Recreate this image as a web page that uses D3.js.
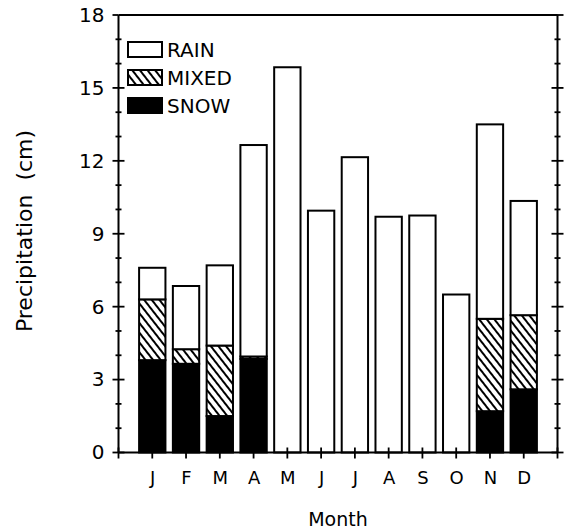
<!DOCTYPE html>
<html>
<head>
<meta charset="utf-8">
<script src="https://cdn.jsdelivr.net/npm/d3@7"></script>
<style>
  html, body { margin: 0; padding: 0; background: #fff; }
  svg { display: block; }
  text { font-family: "DejaVu Sans", "Liberation Sans", Arial, sans-serif; fill: #000; }
</style>
</head>
<body>
<svg id="chart" width="565" height="531"></svg>
<script>
// Monthly precipitation by type (cm)
const months = ["J", "F", "M", "A", "M", "J", "J", "A", "S", "O", "N", "D"];
const snow  = [3.8, 3.65, 1.5, 3.85, 0, 0, 0, 0, 0, 0, 1.7, 2.6];
const mixed = [2.5, 0.6, 2.9, 0.1, 0, 0, 0, 0, 0, 0, 3.8, 3.05];
const rain  = [1.3, 2.6, 3.3, 8.7, 15.85, 9.95, 12.15, 9.7, 9.75, 6.5, 8.0, 4.7];
const yTicks = [0, 3, 6, 9, 12, 15, 18];
const seriesKeys = ["snow", "mixed", "rain"];
const legendItems = [
  { key: "rain", label: "RAIN" },
  { key: "mixed", label: "MIXED" },
  { key: "snow", label: "SNOW" }
];

const FONT = "DejaVu Sans, Liberation Sans, Arial, sans-serif";
const svg = d3.select("#chart");
const plotLeft = 118.5, plotRight = 557.5, plotTop = 15, plotBottom = 452.5;

// month positions 1..12 on a 0..13 linear axis
const x = d3.scaleLinear().domain([0, 13]).range([plotLeft, plotRight]);
const y = d3.scaleLinear().domain([0, 18]).range([plotBottom, plotTop]);
const barW = (x(1) - x(0)) * 0.78;

// diagonal hatch for mixed precipitation
const defs = svg.append("defs");
const pat = defs.append("pattern")
  .attr("id", "hatch")
  .attr("patternUnits", "userSpaceOnUse")
  .attr("width", 6).attr("height", 6)
  .attr("patternTransform", "rotate(-38)");
pat.append("rect").attr("width", 6).attr("height", 6).attr("fill", "#fff");
pat.append("line").attr("x1", 1).attr("y1", 0).attr("x2", 1).attr("y2", 6)
  .attr("stroke", "#000").attr("stroke-width", 2);

const fills = { snow: "#000", mixed: "url(#hatch)", rain: "#fff" };

const table = months.map((m, i) => ({ idx: i + 1, snow: snow[i], mixed: mixed[i], rain: rain[i] }));
const stacked = d3.stack().keys(seriesKeys)(table);

// bars
const layers = svg.append("g").selectAll("g").data(stacked).join("g")
  .attr("fill", d => fills[d.key]);
layers.selectAll("rect").data(d => d.filter(s => s[1] - s[0] > 0)).join("rect")
  .attr("x", d => x(d.data.idx) - barW / 2)
  .attr("width", barW)
  .attr("y", d => y(d[1]))
  .attr("height", d => y(d[0]) - y(d[1]))
  .attr("stroke", "#000")
  .attr("stroke-width", 2);

// frame
const frame = svg.append("g").attr("stroke", "#000").attr("stroke-width", 2).attr("fill", "none");
frame.append("line").attr("x1", plotLeft).attr("x2", plotRight).attr("y1", plotTop).attr("y2", plotTop);
frame.append("line").attr("x1", plotLeft).attr("x2", plotRight).attr("y1", plotBottom).attr("y2", plotBottom);
frame.append("line").attr("x1", plotLeft).attr("x2", plotLeft).attr("y1", plotTop).attr("y2", plotBottom);
frame.append("line").attr("x1", plotRight).attr("x2", plotRight).attr("y1", plotTop).attr("y2", plotBottom);

// left axis: major ticks every 3, minor every 1
const minorVals = d3.range(0, 19);
const yAxisL = svg.append("g").attr("transform", `translate(${plotLeft},0)`);
yAxisL.call(d3.axisLeft(y).tickValues(yTicks).tickSize(0).tickPadding(14))
  .call(g => g.select(".domain").remove())
  .call(g => g.selectAll("text").attr("font-size", 20).attr("font-family", FONT));
yAxisL.selectAll(".ytick").data(minorVals).join("line")
  .attr("class", "ytick")
  .attr("x1", d => d % 3 === 0 ? -6 : -3)
  .attr("x2", d => d === 18 ? 0 : (d % 3 === 0 ? 6 : 3))
  .attr("y1", d => y(d)).attr("y2", d => y(d))
  .attr("stroke", "#000").attr("stroke-width", 1.8);

// right axis ticks
const yAxisR = svg.append("g").attr("transform", `translate(${plotRight},0)`);
yAxisR.selectAll("line").data(minorVals).join("line")
  .attr("x1", d => d % 3 === 0 ? -6 : -3)
  .attr("x2", d => d % 3 === 0 ? 6 : 3)
  .attr("y1", d => y(d)).attr("y2", d => y(d))
  .attr("stroke", "#000").attr("stroke-width", 1.8);

// bottom axis with month labels
const xAxis = svg.append("g").attr("transform", `translate(0,${plotBottom})`);
xAxis.call(d3.axisBottom(x).tickValues(d3.range(1, 13)).tickFormat((d) => months[d - 1]).tickSize(0).tickPadding(19))
  .call(g => g.select(".domain").remove())
  .call(g => g.selectAll("text").attr("font-size", 18).attr("font-family", FONT));
xAxis.selectAll(".mtick").data(d3.range(0, 14)).join("line")
  .attr("class", "mtick")
  .attr("x1", d => x(d)).attr("x2", d => x(d))
  .attr("y1", -5).attr("y2", 6)
  .attr("stroke", "#000").attr("stroke-width", 1.8);

// axis titles
svg.append("text")
  .attr("x", 338).attr("y", 526)
  .attr("text-anchor", "middle")
  .attr("font-size", 19)
  .text("Month");

svg.append("text")
  .attr("transform", "translate(32,231) rotate(-90)")
  .attr("text-anchor", "middle")
  .attr("font-size", 22)
  .attr("xml:space", "preserve")
  .style("white-space", "pre")
  .text("Precipitation  (cm)");

// legend
const legend = svg.append("g");
legendItems.forEach((item, i) => {
  const ly = 42 + i * 28;
  legend.append("rect")
    .attr("x", 128).attr("y", ly).attr("width", 34).attr("height", 15)
    .attr("fill", fills[item.key]).attr("stroke", "#000").attr("stroke-width", 2);
  legend.append("text")
    .attr("x", 167).attr("y", ly + 15)
    .attr("font-size", 20)
    .text(item.label);
});
</script>
</body>
</html>
